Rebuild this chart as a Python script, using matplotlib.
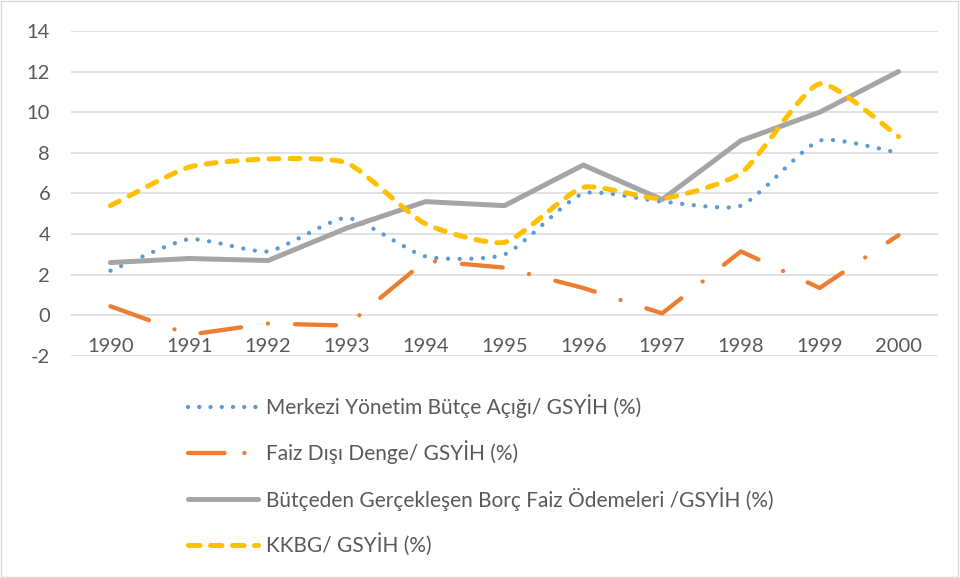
import numpy as np
import matplotlib.pyplot as plt
from matplotlib.path import Path
from matplotlib.patches import PathPatch, Rectangle
from matplotlib.lines import Line2D

plt.rcParams['font.family'] = ['Lato', 'DejaVu Sans']
plt.rcParams['axes.unicode_minus'] = False

years = ["1990", "1991", "1992", "1993", "1994", "1995", "1996", "1997", "1998", "1999", "2000"]
merkezi = [2.2, 3.75, 3.15, 4.8, 2.9, 3.0, 6.0, 5.6, 5.4, 8.6, 8.0]
faiz_disi = [0.45, -0.95, -0.4, -0.5, 2.7, 2.35, 1.35, 0.1, 3.15, 1.35, 3.95]
borc_faiz = [2.6, 2.8, 2.7, 4.3, 5.6, 5.4, 7.4, 5.7, 8.6, 10.0, 12.0]
kkbg = [5.4, 7.3, 7.7, 7.5, 4.5, 3.6, 6.3, 5.75, 7.0, 11.4, 8.8]

labels = ["Merkezi Yönetim Bütçe Açığı/ GSYİH (%)",
          "Faiz Dışı Denge/ GSYİH (%)",
          "Bütçeden Gerçekleşen Borç Faiz Ödemeleri /GSYİH (%)",
          "KKBG/ GSYİH (%)"]

c_blue = "#5B9BD5"
c_orange = "#ED7D31"
c_gray = "#A5A5A5"
c_yellow = "#FFC000"
txt = "#595959"
grid_c = "#D9D9D9"

# rough pixels per data unit, used only to weigh the smoothing like excel does
PX_X, PX_Y = 78.8, 20.3
TENSION = 0.1


def smooth_path(xs, ys):
    pts = np.column_stack([xs, ys]).astype(float)
    ext = np.vstack([pts[0], pts, pts[-1]])
    sc = np.array([PX_X, PX_Y])

    def dist(a, b):
        return np.hypot(*((b - a) * sc))

    verts = [tuple(pts[0])]
    codes = [Path.MOVETO]
    for i in range(len(pts) - 1):
        p0, p1, p2, p3 = ext[i], ext[i + 1], ext[i + 2], ext[i + 3]
        d01, d12, d23 = dist(p0, p1), dist(p1, p2), dist(p2, p3)
        f1 = 2 * d12 / (d01 + d12) * TENSION if d01 > 0 else TENSION
        f2 = 2 * d12 / (d12 + d23) * TENSION if d23 > 0 else TENSION
        verts += [tuple(p1 + (p2 - p0) * f1), tuple(p2 - (p3 - p1) * f2), tuple(p2)]
        codes += [Path.CURVE4] * 3
    return Path(verts, codes)


fig = plt.figure(figsize=(9.6, 5.78), dpi=100)
ax = fig.add_axes([0.074, 0.384, 0.903, 0.5625])
x = np.arange(len(years))

dot_style = (0, (0.01, 2.7))
dashdot_style = (0, (9.5, 6.3, 0.01, 6.3))
dash_style = (0, (2.0, 2.2))

ax.add_patch(PathPatch(smooth_path(x, merkezi), fill=False, edgecolor=c_blue, lw=3.1,
                       linestyle=dot_style, capstyle='round', zorder=3))
ax.plot(x, faiz_disi, color=c_orange, lw=3.1, linestyle=dashdot_style,
        dash_capstyle='round', solid_capstyle='round', zorder=4)
ax.plot(x, borc_faiz, color=c_gray, lw=3.6, solid_capstyle='round',
        solid_joinstyle='round', zorder=5)
ax.add_patch(PathPatch(smooth_path(x, kkbg), fill=False, edgecolor=c_yellow, lw=3.6,
                       linestyle=dash_style, capstyle='round', zorder=6))

ax.set_xlim(-0.5, 10.5)
ax.set_ylim(-2, 14)
ax.set_yticks(range(-2, 15, 2))
ax.set_xticks([])
ax.yaxis.grid(True, color=grid_c, lw=1.1)
ax.set_axisbelow(True)
for s in ax.spines.values():
    s.set_visible(False)
ax.tick_params(axis='y', length=0, pad=15, labelsize=14.5, labelcolor=txt)

for i, yr in enumerate(years):
    ax.text(i, -1.55, yr, ha='center', va='center', fontsize=14.5, color=txt)

handles = [
    Line2D([], [], color=c_blue, lw=3.1, linestyle=(0, (0.01, 2.6)), dash_capstyle='round'),
    Line2D([], [], color=c_orange, lw=3.1, linestyle=(0, (8.5, 4.6, 0.01, 4.0)), dash_capstyle='round'),
    Line2D([], [], color=c_gray, lw=3.6, solid_capstyle='round'),
    Line2D([], [], color=c_yellow, lw=3.6, linestyle=(0, (2.3, 2.1)), dash_capstyle='round'),
]
leg = fig.legend(handles, labels, loc='upper left', bbox_to_anchor=(0.196, 0.318),
                 frameon=False, fontsize=15, handlelength=3.35, handletextpad=0.38,
                 labelspacing=1.08, borderpad=0, borderaxespad=0)
for t in leg.get_texts():
    t.set_color(txt)

fig.patches.append(Rectangle((0.001, 0.002), 0.997, 0.996, transform=fig.transFigure,
                             fill=False, edgecolor=grid_c, lw=1.0))

fig.savefig("out.png", dpi=100)
